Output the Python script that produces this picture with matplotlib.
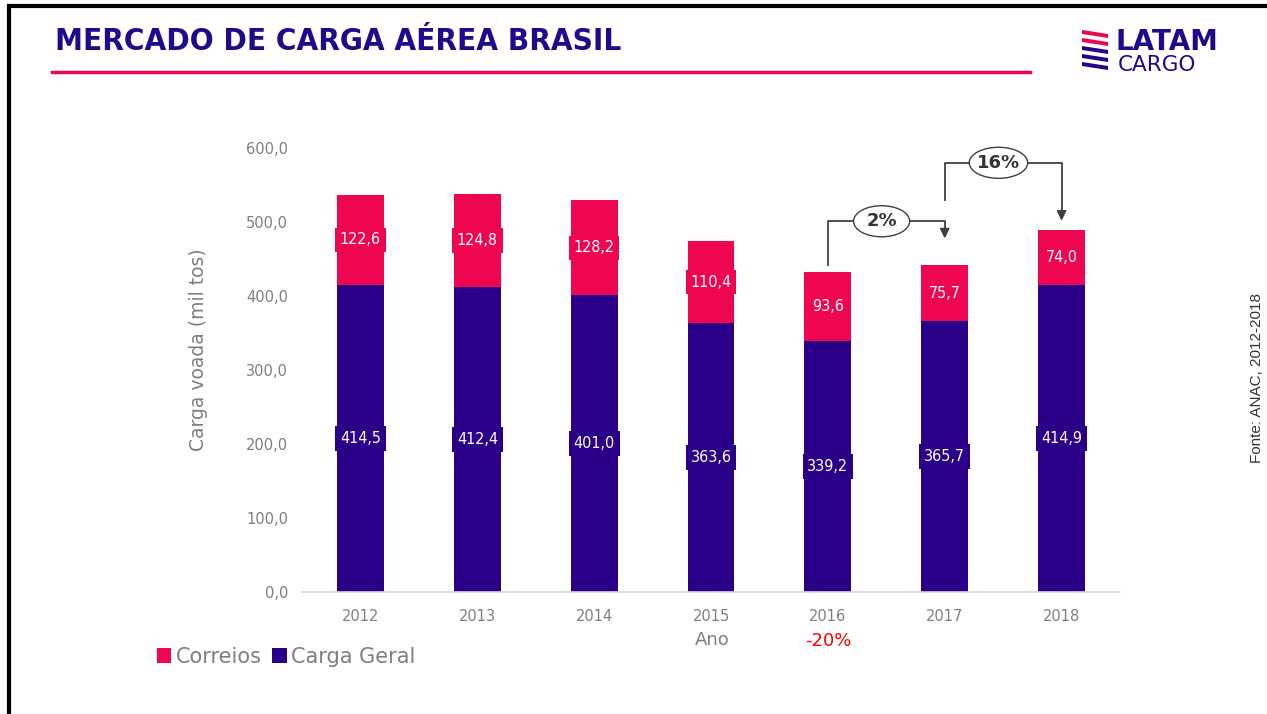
import matplotlib.pyplot as plt
import numpy as np
from matplotlib.patches import Ellipse, Polygon

years = ['2012', '2013', '2014', '2015', '2016', '2017', '2018']
carga_geral = [414.5, 412.4, 401.0, 363.6, 339.2, 365.7, 414.9]
correios = [122.6, 124.8, 128.2, 110.4, 93.6, 75.7, 74.0]
yticks = [0, 100, 200, 300, 400, 500, 600]

pink = '#EE0651'
navy = '#2A0088'
gray = '#7F7F7F'

plt.rcParams['font.family'] = ['DejaVu Sans']

fig = plt.figure(figsize=(12.67, 7.14), dpi=100)
ax = fig.add_axes([302 / 1267, 1 - 592 / 714, 818 / 1267, 444 / 714])

x = np.arange(len(years))
w = 0.40
ax.bar(x, carga_geral, width=w, color=navy, label='Carga Geral')
ax.bar(x, correios, width=w, bottom=carga_geral, color=pink, label='Correios')

def fmt(v):
    return f'{v:.1f}'.replace('.', ',')

for i in range(len(years)):
    ax.text(x[i], carga_geral[i] / 2, fmt(carga_geral[i]), ha='center', va='center',
            color='white', fontsize=11.5, fontstretch='condensed',
            bbox=dict(boxstyle='square,pad=0.3', fc=navy, ec='none'))
    ax.text(x[i], carga_geral[i] + correios[i] / 2, fmt(correios[i]), ha='center', va='center',
            color='white', fontsize=11.5, fontstretch='condensed',
            bbox=dict(boxstyle='square,pad=0.3', fc=pink, ec='none'))

ax.set_xlim(-0.5, 6.5)
ax.set_ylim(0, 600)
ax.set_xticks(x)
ax.set_xticklabels(years)
ax.set_yticks(yticks)
ax.set_yticklabels([fmt(v) for v in yticks])
ax.tick_params(length=0, colors=gray, labelsize=10.5)
ax.tick_params(axis='x', pad=12)
ax.tick_params(axis='y', pad=10)
for s in ['top', 'right', 'left']:
    ax.spines[s].set_visible(False)
ax.spines['bottom'].set_color('#D9D9D9')
ax.spines['bottom'].set_linewidth(1.2)
fig.text(198 / 1267, 1 - 350 / 714, 'Carga voada (mil tos)', rotation=90, ha='center',
         va='center', color=gray, fontsize=13.5)

# growth brackets
lc = '#404040'
ax.plot([4, 4, 5, 5], [442, 501, 501, 488], color=lc, lw=1.3)
ax.annotate('', xy=(5, 474), xytext=(5, 490),
            arrowprops=dict(arrowstyle='-|>', color=lc, lw=1.3, mutation_scale=14))
ax.plot([5, 5, 6, 6], [530, 580, 580, 512], color=lc, lw=1.3, clip_on=False)
ax.annotate('', xy=(6, 498), xytext=(6, 514),
            arrowprops=dict(arrowstyle='-|>', color=lc, lw=1.3, mutation_scale=14))
ax.add_patch(Ellipse((4.46, 501), 0.48, 42, fc='white', ec=lc, lw=1.0, zorder=3,
                     clip_on=False))
ax.text(4.46, 501, '2%', ha='center', va='center', fontsize=13, fontweight='bold',
        color='#333333', zorder=4)
ax.add_patch(Ellipse((5.46, 580), 0.5, 42, fc='white', ec=lc, lw=1.0, zorder=3,
                     clip_on=False))
ax.text(5.46, 580, '16%', ha='center', va='center', fontsize=13, fontweight='bold',
        color='#333333', zorder=4)

fig.text(712 / 1267, 1 - 640 / 714, 'Ano', ha='center', va='center', color=gray, fontsize=13)
fig.text(828 / 1267, 1 - 641 / 714, '-20%', ha='center', va='center', color='#FF0000', fontsize=13)

# legend
h, l = ax.get_legend_handles_labels()
fig.legend(h[::-1], l[::-1], loc='center left', bbox_to_anchor=(138 / 1267, 1 - 657 / 714),
           frameon=False, ncol=2, fontsize=15, labelcolor=gray, handlelength=0.7,
           handleheight=0.7, handletextpad=0.2, columnspacing=0.5)

# header
fig.text(55 / 1267, 1 - 42 / 714, 'MERCADO DE CARGA AÉREA BRASIL', ha='left', va='center',
         color='#1E0A8C', fontsize=22.5, fontweight='bold', fontstretch='condensed')
fig.add_artist(plt.Line2D([52 / 1267, 1030 / 1267], [1 - 72 / 714] * 2, color=pink, lw=2.5))

# frame lines
fig.add_artist(plt.Line2D([9 / 1267, 9 / 1267], [0, 1 - 6 / 714], color='black', lw=3))
fig.add_artist(plt.Line2D([9 / 1267, 1], [1 - 6 / 714] * 2, color='black', lw=3))

# logo
fig.text(1116 / 1267, 1 - 42 / 714, 'LATAM', ha='left', va='center', color='#1E0A8C',
         fontsize=20, fontweight='bold')
fig.text(1118 / 1267, 1 - 65 / 714, 'CARGO', ha='left', va='center', color='#1E0A8C',
         fontsize=15.5)
for k, c in enumerate([pink, pink, navy, navy, navy]):
    y0 = 1 - (30 + 8 * k) / 714
    fig.add_artist(Polygon([[1082 / 1267, y0], [1108 / 1267, y0 - 4 / 714],
                            [1108 / 1267, y0 - 8 / 714], [1082 / 1267, y0 - 4 / 714]],
                           closed=True, fc=c, ec='none'))

fig.text(1257 / 1267, 1 - 378 / 714, 'Fonte: ANAC, 2012-2018', rotation=90, ha='center',
         va='center', color='#333333', fontsize=11, family='Liberation Sans')

fig.savefig('out.png', dpi=100)
